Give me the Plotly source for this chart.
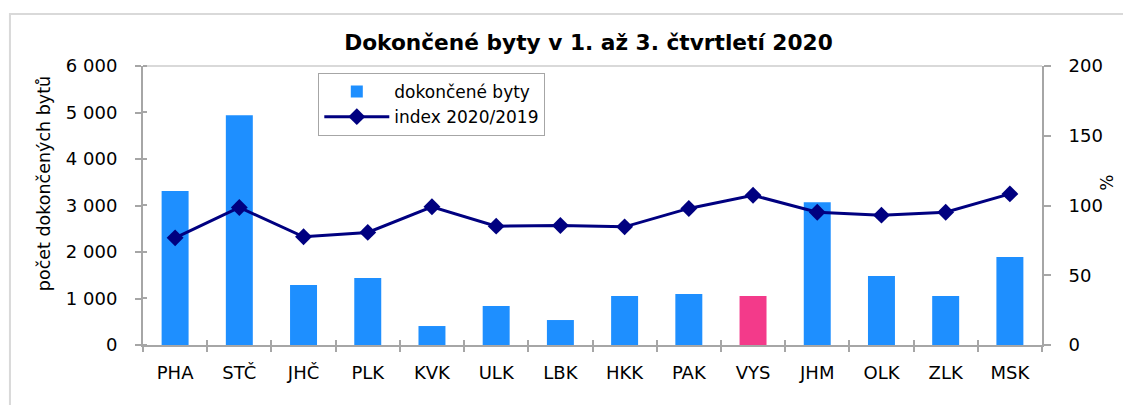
import plotly.graph_objects as go

categories = ["PHA", "STČ", "JHČ", "PLK", "KVK", "ULK", "LBK", "HKK", "PAK", "VYS", "JHM", "OLK", "ZLK", "MSK"]
dokoncene_byty = [3310, 4940, 1290, 1440, 408, 838, 537, 1053, 1096, 1053, 3072, 1482, 1053, 1890]
index_2020_2019 = [76.8, 98.6, 77.6, 80.7, 99.1, 85.2, 85.7, 84.7, 97.9, 107.3, 95.2, 93.1, 95.2, 108.3]
highlight = "VYS"

title_text = "Dokončené byty v 1. až 3. čtvrtletí 2020"
y_title = "počet dokončených bytů"
y2_title = "%"
bar_name = "dokončené byty"
line_name = "index 2020/2019"

BLUE = "#1E8FFF"
PINK = "#F33A8A"
NAVY = "#000080"
AXIS = "#A6A6A6"
FONT = "DejaVu Sans"

bar_colors = [PINK if c == highlight else BLUE for c in categories]

fig = go.Figure()
fig.add_trace(go.Bar(
    x=categories, y=dokoncene_byty, name=bar_name,
    marker=dict(color=bar_colors, line=dict(width=0)),
    width=0.42, xaxis="x", yaxis="y",
))
fig.add_trace(go.Scatter(
    x=categories, y=index_2020_2019, name=line_name,
    mode="lines+markers",
    line=dict(color=NAVY, width=3),
    marker=dict(symbol="diamond", size=13, color=NAVY),
    xaxis="x2", yaxis="y2",
))

tickfont = dict(family=FONT, size=18, color="black")

fig.update_layout(
    width=1123, height=405,
    margin=dict(l=143, r=81, t=66, b=60, autoexpand=False),
    paper_bgcolor="white", plot_bgcolor="white",
    separators=", ",
    showlegend=True,
    title=dict(text="<b>" + title_text + "</b>", x=0.524, xanchor="center",
               y=0.896, yanchor="middle",
               font=dict(family=FONT, size=21.7, color="black")),
    xaxis=dict(
        type="category", categoryorder="array", categoryarray=categories,
        range=[-0.5, len(categories) - 0.5], automargin=False,
        showline=True, linecolor=AXIS, linewidth=2,
        ticks="outside", tickson="boundaries", ticklen=5, tickwidth=2, tickcolor=AXIS,
        tickfont=tickfont, showgrid=False, zeroline=False,
        ticklabelstandoff=10,
    ),
    xaxis2=dict(
        type="category", categoryorder="array", categoryarray=categories,
        range=[-0.5, len(categories) - 0.5], automargin=False,
        overlaying="x", anchor="y",
        showline=False, showticklabels=False,
        ticks="inside", tickson="boundaries", ticklen=5, tickwidth=2, tickcolor=AXIS,
        showgrid=False, zeroline=False,
    ),
    yaxis=dict(
        range=[0, 6000], dtick=1000, tickformat=",d", automargin=False,
        showline=True, linecolor=AXIS, linewidth=2,
        ticks="outside", ticklen=6, tickwidth=2, tickcolor=AXIS,
        minor=dict(ticks="inside", tickmode="linear", tick0=0.5, dtick=1000,
                   ticklen=4, tickwidth=2, tickcolor=AXIS, showgrid=False),
        tickfont=tickfont, showgrid=False, zeroline=False,
        ticklabelstandoff=14,
    ),
    yaxis2=dict(
        range=[0, 200], dtick=50, overlaying="y", side="right", anchor="x", automargin=False,
        showline=True, linecolor=AXIS, linewidth=2,
        ticks="outside", ticklen=7, tickwidth=2, tickcolor=AXIS,
        tickfont=tickfont, showgrid=False, zeroline=False,
        ticklabelstandoff=14,
    ),
    legend=dict(
        x=0.195, y=0.975, xanchor="left", yanchor="top",
        bgcolor="white", bordercolor=AXIS, borderwidth=1,
        font=dict(family=FONT, size=17, color="black"),
        tracegroupgap=0, itemwidth=65,
    ),
    annotations=[
        dict(text=y_title, xref="paper", yref="paper", x=-0.110, y=0.577,
             xanchor="center", yanchor="middle",
             showarrow=False, textangle=-90,
             font=dict(family=FONT, size=17.5, color="black")),
        dict(text=y2_title, xref="paper", yref="paper", x=1.073, y=0.58,
             xanchor="center", yanchor="middle",
             showarrow=False, textangle=-90,
             font=dict(family=FONT, size=17, color="black")),
    ],
    shapes=[
        dict(type="rect", xref="paper", yref="paper",
             x0=-0.148, x1=1.12, y0=-0.25, y1=1.186,
             line=dict(color="#D9D9D9", width=2), fillcolor="rgba(0,0,0,0)", layer="below"),
        dict(type="line", xref="paper", yref="paper",
             x0=0, x1=1, y0=1, y1=1,
             line=dict(color="#D9D9D9", width=2), layer="below"),
    ],
)

fig.write_html("out.html", config={"displayModeBar": False},
               post_script="document.body.style.margin='0';")
